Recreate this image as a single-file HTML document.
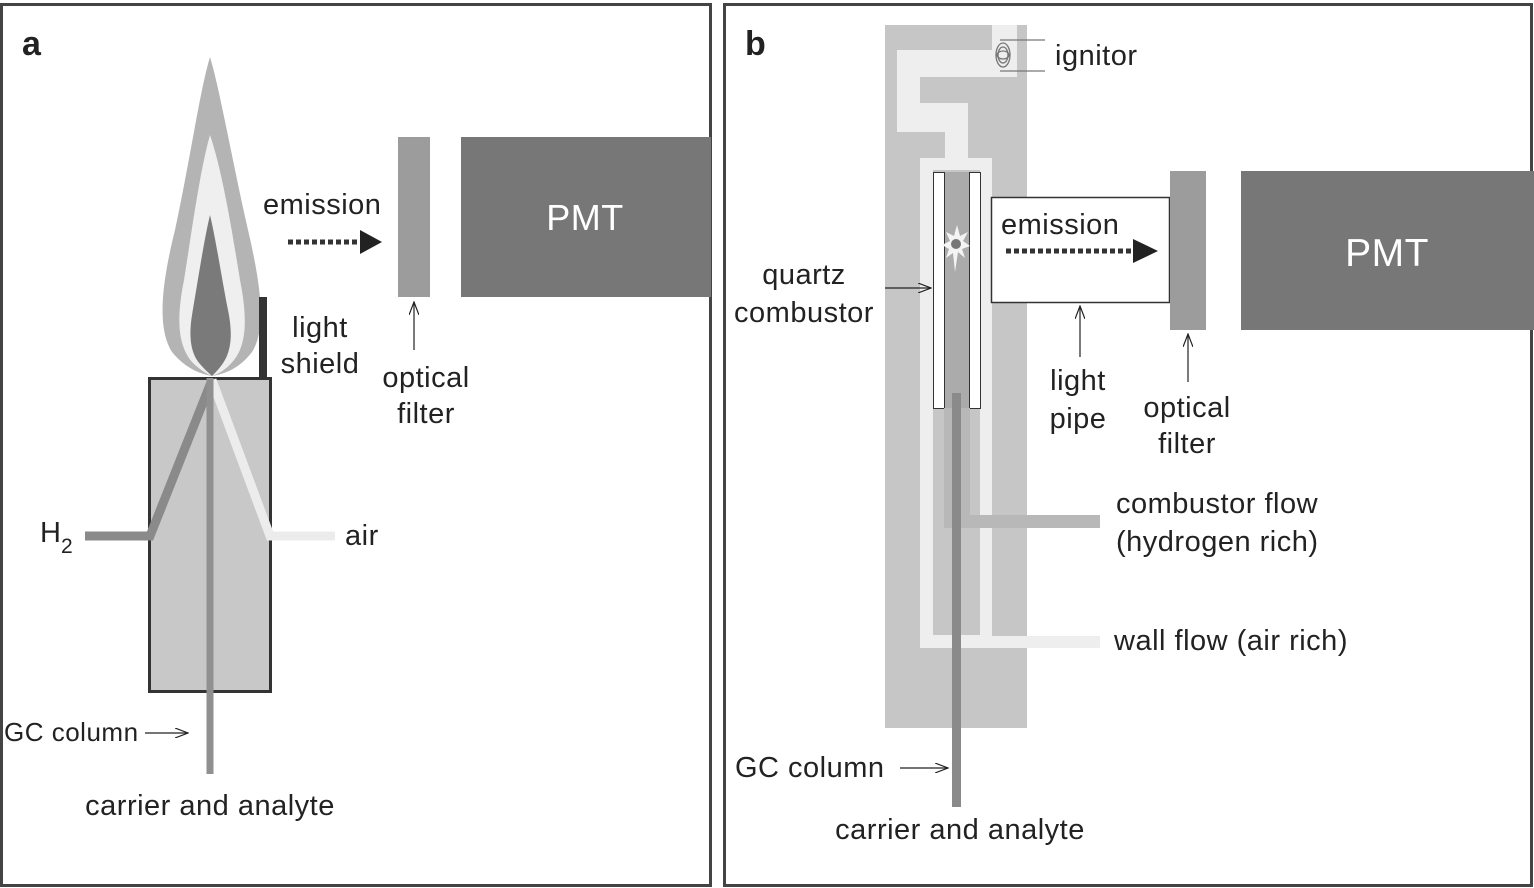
<!DOCTYPE html>
<html><head><meta charset="utf-8"><style>
html,body{margin:0;padding:0;background:#fff;}
svg{display:block;}
text{font-family:"Liberation Sans",sans-serif;fill:#222;letter-spacing:0.5px;}
</style></head><body>
<svg width="1534" height="888" viewBox="0 0 1534 888" xmlns="http://www.w3.org/2000/svg">
<defs>
<marker id="ah" markerWidth="14" markerHeight="10" refX="13" refY="5" orient="auto" markerUnits="userSpaceOnUse">
<path d="M0,0 L13,5 L0,10" fill="none" stroke="#222" stroke-width="1.2"/>
</marker>
</defs>
<rect x="0" y="0" width="1534" height="888" fill="#fff"/>
<rect x="1.5" y="4.5" width="709" height="881" fill="none" stroke="#444" stroke-width="3"/>
<rect x="724.5" y="4.5" width="807" height="881" fill="none" stroke="#444" stroke-width="3"/>
<text x="22" y="55" font-size="34" font-weight="bold" fill="#111">a</text>
<text x="745" y="55" font-size="34" font-weight="bold" fill="#111">b</text>

<!-- ===== Panel a ===== -->
<path d="M210,57 C200,90 190,160 175,230 C160,290 158,330 172,352 C185,368 200,374 212,376 C225,374 240,368 252,352 C266,330 262,290 248,230 C232,160 220,90 210,57 Z" fill="#b4b4b4"/>
<path d="M210,135 C200,170 192,230 184,280 C176,320 178,345 192,362 C200,370 207,374 212,376 C218,374 226,370 234,360 C246,345 248,320 240,280 C232,230 222,170 210,135 Z" fill="#efefef"/>
<path d="M210,215 C204,240 198,280 192,315 C188,340 192,355 200,364 C205,370 210,374 212,376 C216,372 222,366 226,358 C232,345 232,330 228,310 C222,280 216,240 210,215 Z" fill="#7a7a7a"/>
<rect x="259" y="297" width="8" height="82" fill="#333"/>
<rect x="149.5" y="378.5" width="121" height="313" fill="#c8c8c8" stroke="#333" stroke-width="3"/>
<polyline points="85,536 150,536 212,380" fill="none" stroke="#8a8a8a" stroke-width="9"/>
<polyline points="335,536 270,536 212,380" fill="none" stroke="#ececec" stroke-width="9"/>
<line x1="210" y1="378" x2="210" y2="774" stroke="#909090" stroke-width="7"/>
<line x1="288" y1="242" x2="362" y2="242" stroke="#333" stroke-width="5" stroke-dasharray="5,3"/>
<polygon points="360,230 382,242 360,254" fill="#222"/>
<text x="263" y="214" font-size="29">emission</text>
<rect x="398" y="137" width="32" height="160" fill="#9c9c9c"/>
<rect x="461" y="137" width="250" height="160" fill="#777"/>
<text x="585" y="230" font-size="36" text-anchor="middle" style="fill:#fff">PMT</text>
<line x1="414" y1="350" x2="414" y2="302" stroke="#222" stroke-width="1.2" marker-end="url(#ah)"/>
<text x="426" y="387" font-size="29" text-anchor="middle">optical</text>
<text x="426" y="423" font-size="29" text-anchor="middle">filter</text>
<text x="320" y="337" font-size="29" text-anchor="middle">light</text>
<text x="320" y="373" font-size="29" text-anchor="middle">shield</text>
<text x="40" y="542" font-size="29">H</text>
<text x="61" y="553" font-size="21">2</text>
<text x="345" y="545" font-size="29">air</text>
<text x="4" y="741" font-size="26">GC column</text>
<line x1="145" y1="733" x2="188" y2="733" stroke="#222" stroke-width="1.2" marker-end="url(#ah)"/>
<text x="210" y="815" font-size="29" text-anchor="middle">carrier and analyte</text>

<!-- ===== Panel b ===== -->
<rect x="885" y="25" width="142" height="703" fill="#c6c6c6"/>
<g fill="#eeeeee">
<rect x="992" y="25" width="25" height="52"/>
<rect x="897" y="50" width="120" height="27"/>
<rect x="897" y="50" width="23" height="82"/>
<rect x="897" y="103" width="71" height="29"/>
<rect x="945" y="103" width="23" height="60"/>
<rect x="920" y="158" width="72" height="490"/>
<rect x="992" y="636" width="108" height="12"/>
</g>
<rect x="920" y="77" width="107" height="26" fill="#c6c6c6"/>
<rect x="968" y="103" width="59" height="55" fill="#c6c6c6"/>
<rect x="933" y="170" width="47" height="465" fill="#c6c6c6"/>
<rect x="944" y="172" width="26" height="236" fill="#ababab"/>
<rect x="933.5" y="172.5" width="11" height="236" fill="#fff" stroke="#333" stroke-width="1"/>
<rect x="969.5" y="172.5" width="11" height="236" fill="#fff" stroke="#333" stroke-width="1"/>
<rect x="944" y="408" width="26" height="120" fill="#b8b8b8"/>
<rect x="944" y="515" width="156" height="13" fill="#b8b8b8"/>
<rect x="952" y="393" width="9" height="414" fill="#8a8a8a"/>
<polygon points="957,225 960,236 968,232 963,241 970,246 962,249 965,258 958,252 955,272 953,253 946,258 949,249 942,245 950,241 946,232 954,236" fill="#f4f4f4"/>
<circle cx="956" cy="244" r="5" fill="#777"/>
<g fill="none" stroke="#777" stroke-width="1.3">
<line x1="1000" y1="40" x2="1045" y2="40"/>
<line x1="1000" y1="71" x2="1045" y2="71"/>
<ellipse cx="1003" cy="55" rx="7" ry="12"/>
<ellipse cx="1003" cy="55" rx="5" ry="8"/>
<ellipse cx="1003" cy="55" rx="6" ry="4"/>
</g>
<text x="1055" y="65" font-size="29">ignitor</text>
<rect x="991.5" y="197.5" width="178" height="105" fill="#fff" stroke="#333" stroke-width="1.5"/>
<text x="1001" y="234" font-size="29">emission</text>
<line x1="1006" y1="251" x2="1135" y2="251" stroke="#333" stroke-width="5" stroke-dasharray="5,3"/>
<polygon points="1133,239 1158,251 1133,263" fill="#222"/>
<rect x="1170" y="171" width="36" height="159" fill="#9c9c9c"/>
<rect x="1241" y="171" width="293" height="159" fill="#777"/>
<text x="1387" y="266" font-size="39" text-anchor="middle" style="fill:#fff">PMT</text>
<line x1="1188" y1="382" x2="1188" y2="334" stroke="#222" stroke-width="1.2" marker-end="url(#ah)"/>
<text x="1187" y="417" font-size="29" text-anchor="middle">optical</text>
<text x="1187" y="453" font-size="29" text-anchor="middle">filter</text>
<line x1="1080" y1="357" x2="1080" y2="306" stroke="#222" stroke-width="1.2" marker-end="url(#ah)"/>
<text x="1078" y="390" font-size="29" text-anchor="middle">light</text>
<text x="1078" y="428" font-size="29" text-anchor="middle">pipe</text>
<text x="804" y="284" font-size="29" text-anchor="middle">quartz</text>
<text x="804" y="322" font-size="29" text-anchor="middle">combustor</text>
<line x1="885" y1="288" x2="931" y2="288" stroke="#222" stroke-width="1.2" marker-end="url(#ah)"/>
<text x="1116" y="513" font-size="29">combustor flow</text>
<text x="1116" y="551" font-size="29">(hydrogen rich)</text>
<text x="1114" y="650" font-size="29">wall flow (air rich)</text>
<text x="735" y="777" font-size="29">GC column</text>
<line x1="900" y1="768" x2="948" y2="768" stroke="#222" stroke-width="1.2" marker-end="url(#ah)"/>
<text x="960" y="839" font-size="29" text-anchor="middle">carrier and analyte</text>
</svg>
</body></html>
